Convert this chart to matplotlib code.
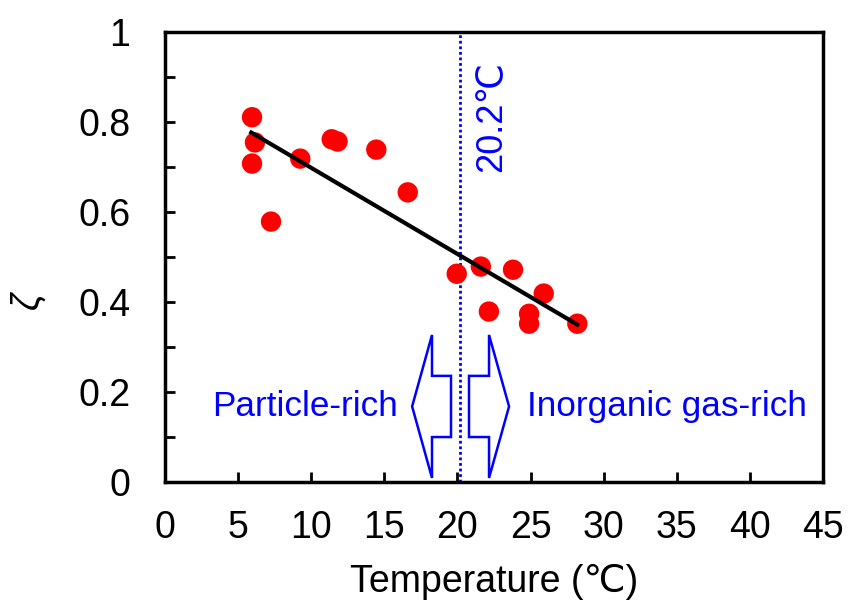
import numpy as np
import matplotlib
matplotlib.use("Agg")
import matplotlib.pyplot as plt
from matplotlib.patches import Polygon
from matplotlib.ticker import MultipleLocator

plt.rcParams.update({
    "font.family": ["Liberation Sans", "DejaVu Sans"],
    "font.size": 27,
})

# measured points: temperature (C) vs zeta
temp = [5.95, 6.15, 5.95, 7.25, 9.25, 11.4, 11.8, 14.45, 16.6,
        19.95, 21.6, 23.8, 22.15, 25.9, 24.9, 24.9, 28.2]
zeta = [0.811, 0.755, 0.708, 0.579, 0.719, 0.762, 0.757, 0.739, 0.644,
        0.463, 0.479, 0.472, 0.379, 0.419, 0.374, 0.352, 0.352]

# regression line end points
fit_x = [5.9, 28.2]
fit_y = [0.777, 0.350]

t_split = 20.2

fig = plt.figure(figsize=(8.48, 6.08), dpi=100)
ax = fig.add_axes([0.1946, 0.2072, 0.7759, 0.7398])

ax.scatter(temp, zeta, s=215, color="#ff0000", edgecolors="none", zorder=3)
ax.plot(fit_x, fit_y, color="black", linewidth=3, zorder=4)
ax.axvline(t_split, color="#0000ff", linestyle=(0, (1, 1)), linewidth=2)

ax.text(22.37, 0.812, "20.2\u2103", rotation=90, color="#0000ff",
        fontsize=26, ha="center", va="center")


def block_arrow(x0, x1, x2):
    # x0: body start, x1: body end / head base, x2: tip
    yb0, yb1 = 0.100, 0.236
    yh0, yh1 = 0.009, 0.327
    ym = 0.168
    pts = [(x0, yb1), (x1, yb1), (x1, yh1), (x2, ym), (x1, yh0),
           (x1, yb0), (x0, yb0)]
    ax.add_patch(Polygon(pts, closed=True, facecolor="white",
                         edgecolor="#0000ff", linewidth=1.8, zorder=2))


block_arrow(19.56, 18.26, 16.9)
block_arrow(20.79, 22.16, 23.53)

ax.text(15.94, 0.168, "Particle-rich", color="#0000ff", fontsize=25.3,
        ha="right", va="center")
ax.text(24.76, 0.168, "Inorganic gas-rich", color="#0000ff", fontsize=25.3,
        ha="left", va="center")

ax.set_xlim(0, 45)
ax.set_ylim(0, 1)
ax.xaxis.set_major_locator(MultipleLocator(5))
ax.yaxis.set_major_locator(MultipleLocator(0.2))
ax.yaxis.set_minor_locator(MultipleLocator(0.1))
ax.yaxis.set_major_formatter(plt.FuncFormatter(lambda v, p: f"{v:g}"))

ax.tick_params(axis="both", which="both", direction="in", length=7,
               width=2, top=False, right=False)
ax.tick_params(axis="x", pad=20)
ax.tick_params(axis="y", pad=25)
for s in ax.spines.values():
    s.set_linewidth(2.5)

ax.set_xlabel("Temperature (\u2103)", labelpad=13)
ax.set_ylabel("\u03b6", fontstyle="italic")
ax.yaxis.set_label_coords(-0.182, 0.405)

fig.savefig("out.png", dpi=100)
